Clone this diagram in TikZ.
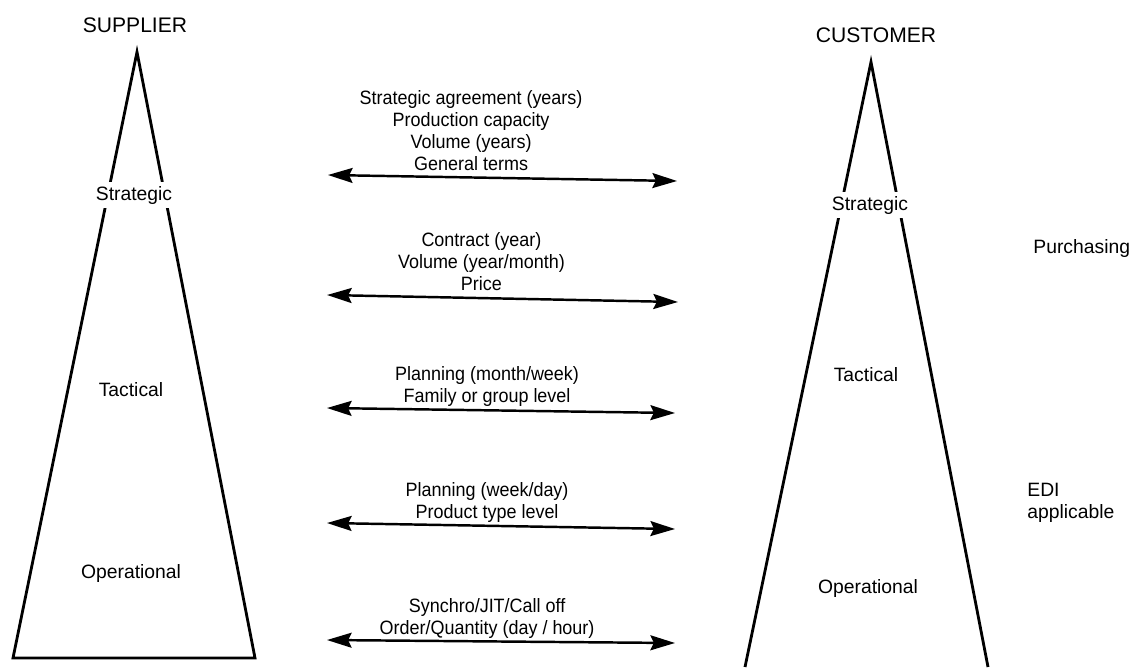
\documentclass[tikz,border=0pt]{standalone}
\usepackage{fontspec}
\setmainfont{Liberation Sans}
\newfontfamily\narrowfont{Liberation Sans}[FakeStretch=0.93]
\usetikzlibrary{arrows.meta, positioning}

\begin{document}
\begin{tikzpicture}[x=0.02cm, y=-0.02cm,
  side/.style={font=\fontsize{12}{14}\selectfont, inner sep=0pt},
  level/.style={font=\fontsize{11}{13}\selectfont, inner sep=2.5pt},
  cut/.style={level, fill=white},
  note/.style={font=\fontsize{11}{12.5}\selectfont, align=left, anchor=west, inner sep=0pt},
  info/.style={font=\narrowfont\fontsize{11}{12.5}\selectfont, align=center,
               inner sep=0pt, text depth=0pt, anchor=south, yshift=3.5pt},
  tri/.style={line width=1.6pt, line join=miter},
  flow/.style={{Stealth[length=14pt, width=8.5pt, inset=2pt]}-{Stealth[length=14pt, width=8.5pt, inset=2pt]},
               line width=1.4pt}]
  \useasboundingbox (0,0) rectangle (1135,667);

  % Supplier pyramid
  \coordinate (stop) at (137,52);
  \coordinate (sbl) at (13,658);
  \coordinate (sbr) at (255,658);
  \draw[tri] (stop) -- (sbl) -- (sbr) -- cycle;
  \node[side] (supplier) at (135,25) {SUPPLIER};
  \node[cut] (sstrat) at (134,195) {Strategic};
  \node[level] (stact) at (131,390) {Tactical};
  \node[level] (soper) at (131,573) {Operational};

  % Customer pyramid (open at the bottom)
  \coordinate (ctop) at (871,62);
  \coordinate (cbl) at (745,667);
  \coordinate (cbr) at (988,667);
  \draw[tri] (cbl) -- (ctop) -- (cbr);
  \node[side] (customer) at (876,35) {CUSTOMER};
  \node[cut] (cstrat) at (870,205) {Strategic};
  \node[level] (ctact) at (866,375) {Tactical};
  \node[level] (coper) at (868,588) {Operational};

  % Notes on the right
  \node[note] (purch) at (1033,248) {Purchasing};
  \node[note] (edi) at (1027,503) {EDI\\applicable};

  % Arrow end points
  \coordinate (f1l) at (328,175); \coordinate (f1r) at (677,181);
  \coordinate (f2l) at (327,295); \coordinate (f2r) at (678,302);
  \coordinate (f3l) at (327,408); \coordinate (f3r) at (675,413);
  \coordinate (f4l) at (327,523); \coordinate (f4r) at (675,529);
  \coordinate (f5l) at (327,640); \coordinate (f5r) at (675,643);

  % Flows between the two sides
  \draw[flow] (f1l) -- (f1r)
    node[info, pos=0.41] (t1) {Strategic agreement (years)\\Production capacity\\Volume (years)\\General terms};
  \draw[flow] (f2l) -- (f2r)
    node[info, pos=0.44] (t2) {Contract (year)\\Volume (year/month)\\Price};
  \draw[flow] (f3l) -- (f3r)
    node[info, pos=0.46] (t3) {Planning (month/week)\\Family or group level};
  \draw[flow] (f4l) -- (f4r)
    node[info, pos=0.46] (t4) {Planning (week/day)\\Product type level};
  \draw[flow] (f5l) -- (f5r)
    node[info, pos=0.46] (t5) {Synchro/JIT/Call off\\Order/Quantity (day / hour)};
\end{tikzpicture}
\end{document}
